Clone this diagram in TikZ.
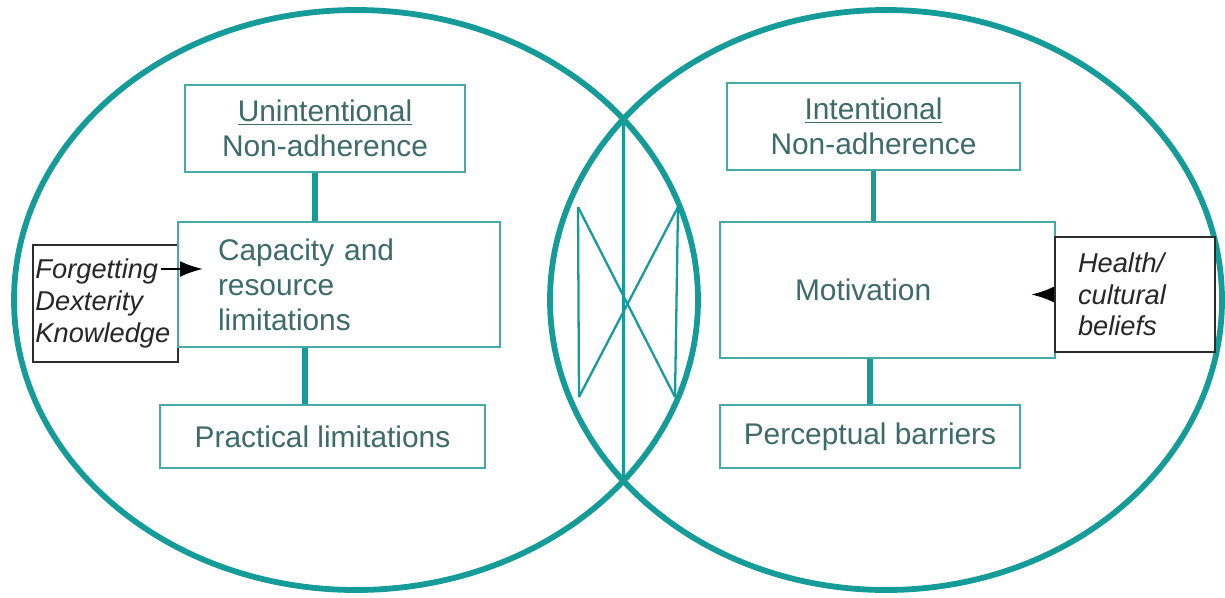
\documentclass[tikz,border=0pt]{standalone}
\usepackage{fontspec}
\setmainfont{Liberation Sans}
\usepackage{tikz}
\usetikzlibrary{arrows.meta}
\definecolor{ringteal}{RGB}{22,156,152}
\definecolor{boxteal}{RGB}{70,170,167}
\definecolor{textteal}{RGB}{62,106,106}
\definecolor{darkline}{RGB}{45,45,45}

\begin{document}
\begin{tikzpicture}[
  ring/.style={line width=3.3pt,ringteal},
  hatch/.style={line width=1.3pt,ringteal},
  tbox/.style={draw=boxteal,line width=1.3pt,fill=white,text=textteal,font=\fontsize{17}{20}\selectfont,align=center},
  cbox/.style={draw=darkline,line width=1.3pt,fill=white,text=black!85,font=\fontsize{15.5}{18}\selectfont\itshape,align=left},
  link/.style={line width=3.3pt,ringteal},
  cause/.style={line width=1.4pt,black,-{Latex[length=4.6mm,width=3.2mm]}}]
\useasboundingbox (0,0) rectangle (24.5,-11.94);

% the two overlapping ellipses
\draw[ring] (7.12,-6) ellipse [x radius=6.84,y radius=5.8];
\draw[ring] (17.72,-6) ellipse [x radius=6.72,y radius=5.8];

% hatching in the overlap
\draw[hatch] (12.47,-2.43) -- (12.47,-9.57);
\draw[hatch] (11.56,-4.14) -- (11.58,-7.94);
\draw[hatch] (13.56,-4.14) -- (13.5,-7.94);
\draw[hatch] (11.56,-4.14) -- (13.5,-7.94);
\draw[hatch] (13.56,-4.14) -- (11.58,-7.94);

% left ellipse
\node[cbox,text width=2.8cm,inner xsep=0.5mm,minimum height=2.34cm] (lcause) at (2.11,-6.07) {Forgetting\\Dexterity\\Knowledge};
\node[tbox,minimum width=5.6cm,minimum height=1.74cm] (unint) at (6.5,-2.57) {\underline{Unintentional}\\Non-adherence};
\node[tbox,text width=4.84cm,inner xsep=8mm,minimum height=2.5cm,align=left] (cap) at (6.78,-5.69) {Capacity and\\resource\\limitations};
\node[tbox,minimum width=6.5cm,minimum height=1.26cm] (prac) at (6.45,-8.73) {Practical limitations};
\draw[link] ([xshift=-2mm]unint.south) -- ([xshift=-2mm]unint.south |- cap.north);
\draw[link] ([xshift=-3.5mm]prac.north) -- ([xshift=-3.5mm]prac.north |- cap.south);
\coordinate (fgend) at (3.22,-5.38);
\coordinate (fgtip) at (4.06,-5.38);
\draw[cause] (fgend) -- (fgtip);

% right ellipse
\node[tbox,minimum width=5.86cm,minimum height=1.74cm] (intent) at (17.47,-2.53) {\underline{Intentional}\\Non-adherence};
\node[tbox,text width=3.7cm,inner xsep=15mm,minimum height=2.72cm,align=left] (mot) at (17.75,-5.8) {Motivation};
\node[tbox,minimum width=6cm,minimum height=1.26cm] (percep) at (17.4,-8.73) {Perceptual barriers};
\node[cbox,text width=2.28cm,inner xsep=4.6mm,minimum height=2.3cm] (rcause) at (22.7,-5.89) {Health/\\cultural\\beliefs};
\draw[link] (intent.south) -- (intent.south |- mot.north);
\draw[link] (percep.north) -- (percep.north |- mot.south);
\coordinate (mottip) at (20.62,-5.89);
\draw[cause] (rcause.west) -- (mottip);
\end{tikzpicture}
\end{document}
